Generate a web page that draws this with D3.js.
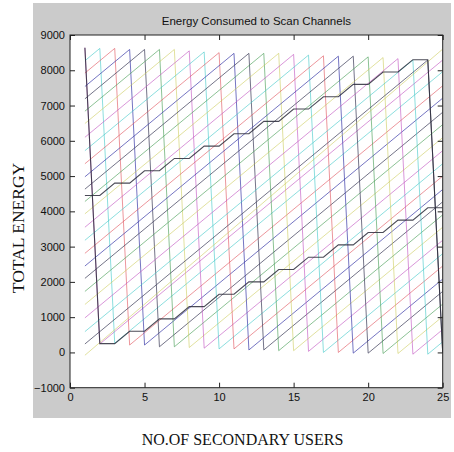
<!DOCTYPE html>
<html>
<head>
<meta charset="utf-8">
<script src="https://cdn.jsdelivr.net/npm/d3@7/dist/d3.min.js"></script>
<style>
  html, body { margin: 0; padding: 0; background: #ffffff; }
  svg { display: block; }
</style>
</head>
<body>
<svg id="chart" width="454" height="452"></svg>
<script>
// ---------- data ----------
const chartTitle = "Energy Consumed to Scan Channels";
const xAxisLabel = "NO.OF SECONDARY USERS";
const yAxisLabel = "TOTAL ENERGY";
const xTickValues = [0, 5, 10, 15, 20, 25];
const yTickValues = [-1000, 0, 1000, 2000, 3000, 4000, 5000, 6000, 7000, 8000, 9000];

// sawtooth lines: each one rises, falls once between x = drop and drop+1, rises again
const lineDropX   = [1, 2, 3, 4, 5, 6, 7, 8, 9, 10, 11, 12, 13, 14, 15, 16, 17, 18, 19, 20, 21, 22, 23, 24];
const lineStartY  = [8640, 8270, 7920, 7540, 7190, 6840, 6490, 6100, 5720, 5350, 4980, 4630, 4280, 3930, 3550, 3180, 2810, 2450, 2100, 1730, 1360, 980, 590, 240];
const lineTopY    = [8640, 8620, 8620, 8590, 8590, 8590, 8590, 8550, 8520, 8500, 8480, 8480, 8480, 8480, 8450, 8430, 8410, 8400, 8400, 8380, 8360, 8330, 8290, 8290];
const lineBottomY = [240, 260, 210, 210, 160, 160, 140, 120, 100, 100, 70, 70, 50, 50, 30, 0, 0, -20, -20, -30, -30, -50, -50, 0];
const lineEndY    = [8290, 7960, 7560, 7210, 6810, 6460, 6090, 5720, 5350, 5000, 4620, 4270, 3900, 3550, 3180, 2800, 2450, 2080, 1730, 1370, 1020, 650, 300, 0];
const lineColorCodes = ["m","c","r","b","k","g","y","m","c","r","b","k","g","y","m","c","r","b","k","g","y","m","c","k"];

// straight line without a fall
const straightX = [1, 25];
const straightY = [-80, 8600];

// the two staircase lines
const stairLowX = [1, 2, 3, 4, 5, 6, 7, 8, 9, 10, 11, 12, 13, 14, 15, 16, 17, 18, 19, 20, 21, 22, 23, 24, 25];
const stairLowY = [8640, 250, 250, 600, 600, 950, 950, 1300, 1300, 1650, 1650, 2000, 2000, 2350, 2350, 2700, 2700, 3050, 3050, 3400, 3400, 3750, 3750, 4100, 4100];
const stairHighX = [1, 2, 3, 4, 5, 6, 7, 8, 9, 10, 11, 12, 13, 14, 15, 16, 17, 18, 19, 20, 21, 22, 23, 24, 25];
const stairHighY = [4450, 4450, 4800, 4800, 5150, 5150, 5500, 5500, 5850, 5850, 6200, 6200, 6550, 6550, 6900, 6900, 7250, 7250, 7600, 7600, 7950, 7950, 8300, 8300, 0];

const colorMap = { b: "#3a3aa8", g: "#3f9a4f", r: "#e0505a", c: "#40c8c8", m: "#c050c0", y: "#c8c850", k: "#454560" };
const opacityMap = { b: 0.7, g: 0.6, r: 0.6, c: 0.6, m: 0.6, y: 0.55, k: 0.75 };

// ---------- drawing ----------
const svg = d3.select("#chart");
const plot = { left: 70, right: 442.7, top: 35, bottom: 387.7 };

const x = d3.scaleLinear().domain([0, 25]).range([plot.left, plot.right]);
const y = d3.scaleLinear().domain([-1000, 9000]).range([plot.bottom, plot.top]);

// figure background
svg.append("rect").attr("x", 33).attr("y", 3).attr("width", 418).attr("height", 415).attr("fill", "#cbcbcb");
// plot area
svg.append("rect").attr("x", plot.left).attr("y", plot.top)
  .attr("width", plot.right - plot.left).attr("height", plot.bottom - plot.top).attr("fill", "#ffffff");

svg.append("clipPath").attr("id", "clip").append("rect")
  .attr("x", plot.left).attr("y", plot.top)
  .attr("width", plot.right - plot.left).attr("height", plot.bottom - plot.top);

const g = svg.append("g").attr("clip-path", "url(#clip)");
const line = d3.line().x(d => x(d[0])).y(d => y(d[1]));

lineDropX.forEach((dx, i) => {
  const pts = [];
  if (dx > 1) pts.push([1, lineStartY[i]]);
  pts.push([dx, lineTopY[i]]);
  pts.push([dx + 1, lineBottomY[i]]);
  if (dx + 1 < 25) pts.push([25, lineEndY[i]]);
  const code = lineColorCodes[i];
  g.append("path").attr("d", line(pts))
    .attr("fill", "none")
    .attr("stroke", colorMap[code])
    .attr("stroke-opacity", opacityMap[code])
    .attr("stroke-width", 1);
});

g.append("path").attr("d", line(straightX.map((v, i) => [v, straightY[i]])))
  .attr("fill", "none").attr("stroke", colorMap.y).attr("stroke-opacity", 0.55).attr("stroke-width", 1);

[[stairLowX, stairLowY], [stairHighX, stairHighY]].forEach(([xs, ys]) => {
  g.append("path").attr("d", line(xs.map((v, i) => [v, ys[i]])))
    .attr("fill", "none").attr("stroke", "#2a2a3a").attr("stroke-opacity", 0.85).attr("stroke-width", 1.1);
});

// axes
const tickFont = "'Liberation Sans', Arial, Helvetica, sans-serif";
function styleAxis(sel) {
  sel.select(".domain").remove();
  sel.selectAll(".tick line").attr("stroke", "#222").attr("stroke-width", 1);
  sel.selectAll(".tick text").attr("fill", "#111").style("font-family", tickFont).style("font-size", "11px");
}

svg.append("g").attr("transform", `translate(0,${plot.bottom})`)
  .call(d3.axisBottom(x).tickValues(xTickValues).tickFormat(d3.format("d")).tickSize(-5).tickPadding(6))
  .call(styleAxis);
svg.append("g").attr("transform", `translate(0,${plot.top})`)
  .call(d3.axisTop(x).tickValues(xTickValues).tickFormat("").tickSize(-5))
  .call(styleAxis);
svg.append("g").attr("transform", `translate(${plot.left},0)`)
  .call(d3.axisLeft(y).tickValues(yTickValues).tickFormat(d3.format("d")).tickSize(-5).tickPadding(5))
  .call(styleAxis);
svg.append("g").attr("transform", `translate(${plot.right},0)`)
  .call(d3.axisRight(y).tickValues(yTickValues).tickFormat("").tickSize(-5))
  .call(styleAxis);

// box
svg.append("rect").attr("x", plot.left).attr("y", plot.top)
  .attr("width", plot.right - plot.left).attr("height", plot.bottom - plot.top)
  .attr("fill", "none").attr("stroke", "#222").attr("stroke-width", 1);

// title
svg.append("text").attr("x", (plot.left + plot.right) / 2).attr("y", 25)
  .attr("text-anchor", "middle").style("font-family", tickFont).style("font-size", "11.5px")
  .attr("fill", "#111").text(chartTitle);

// axis labels
const serif = "'Liberation Serif', 'Times New Roman', Times, serif";
svg.append("text").attr("x", 242.5).attr("y", 445)
  .attr("text-anchor", "middle").style("font-family", serif).style("font-size", "16px")
  .attr("fill", "#111").text(xAxisLabel);
svg.append("text").attr("transform", "translate(24,228) rotate(-90)")
  .attr("text-anchor", "middle").style("font-family", serif).style("font-size", "17.5px")
  .attr("fill", "#111").text(yAxisLabel);
</script>
</body>
</html>
